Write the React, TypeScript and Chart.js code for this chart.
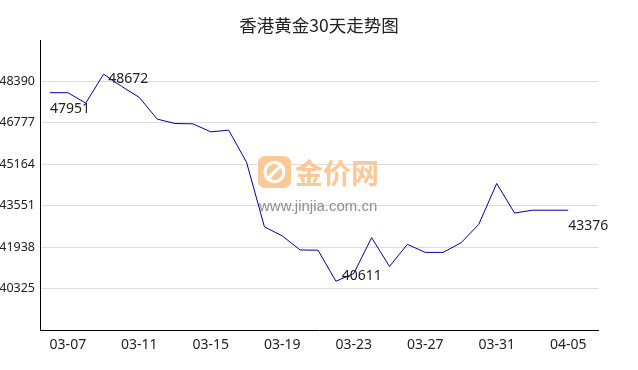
import React, { useEffect, useRef } from "react";
import { Chart, registerables } from "chart.js";

Chart.register(...registerables);

const titleText = "香港黄金30天走势图";

const dates = [
  "03-06", "03-07", "03-08", "03-09", "03-10", "03-11", "03-12", "03-13", "03-14", "03-15",
  "03-16", "03-17", "03-18", "03-19", "03-20", "03-21", "03-22", "03-23", "03-24", "03-25",
  "03-26", "03-27", "03-28", "03-29", "03-30", "03-31", "04-01", "04-02", "04-03", "04-05",
];

const prices = [
  47951, 47951, 47547, 48672, 48200, 47766, 46923, 46751, 46739, 46427,
  46493, 45244, 42730, 42375, 41828, 41820, 40611, 40911, 42308, 41184,
  42047, 41734, 41734, 42105, 42827, 44416, 43265, 43376, 43376, 43376,
];

const xTickLabels = ["03-07", "03-11", "03-15", "03-19", "03-23", "03-27", "03-31", "04-05"];
const yTicks = [40325, 41938, 43551, 45164, 46777, 48390];
const yMin = 38712;
const yMax = 50003;

const textColor = "#222";
const lineColor = "#00009c";
const waterOrange = "#fcc895";

const titlePlugin = {
  id: "customTitle",
  afterDraw(chart: any) {
    const ctx = chart.ctx;
    ctx.save();
    ctx.font = '17.5px "Noto Sans CJK SC", sans-serif';
    ctx.fillStyle = textColor;
    ctx.textAlign = "center";
    ctx.textBaseline = "middle";
    ctx.fillText(titleText, chart.width / 2, 25);
    ctx.restore();
  },
};

const watermarkPlugin = {
  id: "watermark",
  beforeDatasetsDraw(chart: any) {
    const ctx = chart.ctx;
    const a = chart.chartArea;
    const cx = (a.left + a.right) / 2;
    const cy = (a.top + a.bottom) / 2;
    ctx.save();
    const lx = cx - 61;
    const ly = cy - 29;
    const s = 33;
    ctx.fillStyle = waterOrange;
    ctx.beginPath();
    if ((ctx as any).roundRect) (ctx as any).roundRect(lx, ly, s, s - 1, 7);
    else ctx.rect(lx, ly, s, s - 1);
    ctx.fill();
    ctx.strokeStyle = "#fff";
    ctx.lineWidth = 3.2;
    ctx.lineCap = "round";
    const ix = lx + s / 2;
    const iy = ly + (s - 1) / 2;
    ctx.beginPath();
    ctx.arc(ix, iy, 9.5, Math.PI * 0.85, Math.PI * 1.85);
    ctx.stroke();
    ctx.beginPath();
    ctx.arc(ix, iy, 9.5, Math.PI * -0.15, Math.PI * 0.85);
    ctx.stroke();
    ctx.beginPath();
    ctx.moveTo(ix - 5, iy + 5);
    ctx.lineTo(ix + 5, iy - 5);
    ctx.stroke();
    ctx.fillStyle = waterOrange;
    ctx.font = 'bold 28px "Noto Sans CJK SC", sans-serif';
    ctx.textAlign = "left";
    ctx.textBaseline = "middle";
    ctx.fillText("金价网", lx + 37, iy + 1);
    ctx.fillStyle = "#8e8e8e";
    ctx.font = '15px "Liberation Sans", Arial, sans-serif';
    ctx.fillText("www.jinjia.com.cn", lx + 1, cy + 21.5);
    ctx.restore();
  },
};

const labelPlugin = {
  id: "pointLabels",
  afterDatasetsDraw(chart: any) {
    const meta = chart.getDatasetMeta(0);
    const data = prices;
    const maxI = data.indexOf(Math.max(...data));
    const minI = data.indexOf(Math.min(...data));
    const lastI = data.length - 1;
    const items = [
      { i: 0, dx: 0, dy: 16.5 },
      { i: maxI, dx: 4.7, dy: 4.7 },
      { i: minI, dx: 5.8, dy: -5.2 },
      { i: lastI, dx: 0, dy: 16 },
    ];
    const ctx = chart.ctx;
    ctx.save();
    ctx.font = '14px "Noto Sans", sans-serif';
    ctx.fillStyle = textColor;
    ctx.textAlign = "left";
    ctx.textBaseline = "middle";
    for (const it of items) {
      const p = meta.data[it.i];
      if (!p) continue;
      ctx.fillText(String(data[it.i]), p.x + it.dx, p.y + it.dy);
    }
    ctx.restore();
  },
};

export default function App() {
  const ref = useRef<HTMLCanvasElement | null>(null);

  useEffect(() => {
    if (!ref.current) return;
    const chart = new Chart(ref.current, {
      type: "line",
      data: {
        datasets: [
          {
            data: prices.map((v, i) => ({ x: i, y: v })),
            borderColor: lineColor,
            borderWidth: 1,
            pointRadius: 0,
            fill: false,
            tension: 0,
          },
        ],
      },
      options: {
        responsive: false,
        animation: false,
        layout: { padding: { top: 40, right: 40, left: 0, bottom: 0 } },
        plugins: {
          legend: { display: false },
          title: { display: false },
          tooltip: { enabled: false },
        },
        scales: {
          x: {
            type: "linear",
            min: -0.56,
            max: 30.67,
            afterBuildTicks: (scale: any) => {
              scale.ticks = xTickLabels.map((l) => ({ value: dates.indexOf(l) }));
            },
            afterFit: (scale: any) => {
              scale.height = 40;
            },
            grid: { display: false, drawTicks: false },
            border: { display: true, color: "#000", width: 1 },
            ticks: {
              autoSkip: false,
              maxRotation: 0,
              padding: 7,
              color: textColor,
              font: { family: '"Noto Sans", sans-serif', size: 14 },
              callback: (v: any) => dates[Math.round(Number(v))] ?? "",
            },
          },
          y: {
            type: "linear",
            min: yMin,
            max: yMax,
            afterBuildTicks: (scale: any) => {
              scale.ticks = yTicks.map((v) => ({ value: v }));
            },
            afterFit: (scale: any) => {
              scale.width = 40;
            },
            grid: { color: "#dcdcdc", drawTicks: false, lineWidth: 1 },
            border: { display: true, color: "#000", width: 1 },
            ticks: {
              autoSkip: false,
              padding: 5,
              color: textColor,
              font: { family: '"Noto Sans", sans-serif', size: 12.5 },
              callback: (v: any) => String(v),
            },
          },
        },
      },
      plugins: [watermarkPlugin, labelPlugin, titlePlugin],
    });
    return () => chart.destroy();
  }, []);

  return (
    <div style={{ position: "fixed", left: 0, top: 0, width: 638, height: 370, background: "#fff" }}>
      <canvas ref={ref} width={638} height={370} style={{ display: "block" }} />
    </div>
  );
}
